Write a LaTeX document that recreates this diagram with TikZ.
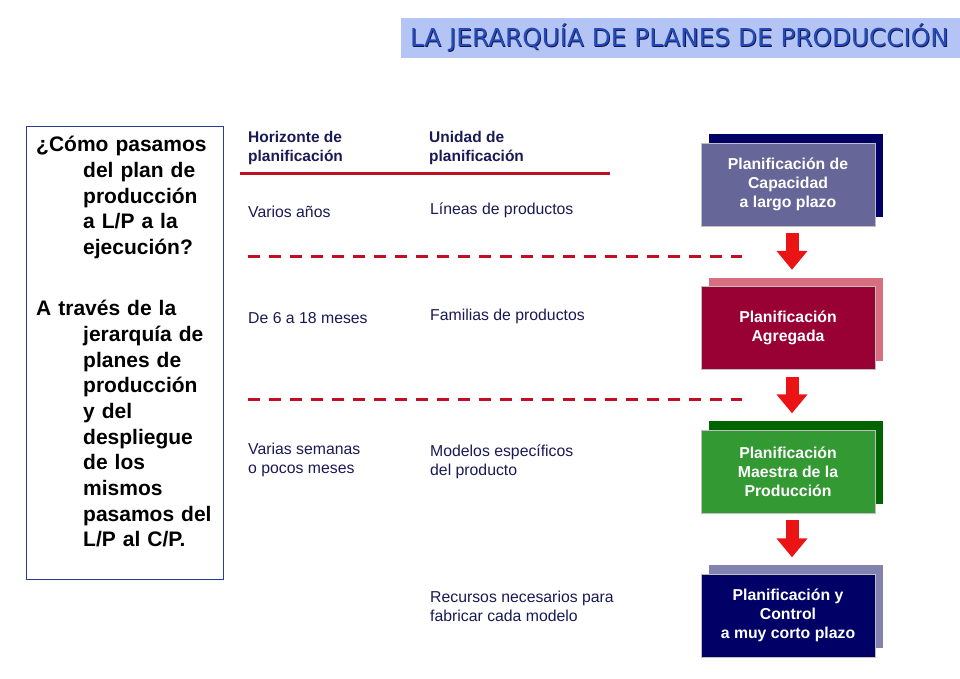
\documentclass[tikz,border=0pt]{standalone}
\usepackage{fontspec}
\setmainfont{Liberation Sans}
\newfontfamily\titlefont{DejaVu Sans}
\usetikzlibrary{arrows.meta}

\definecolor{navytext}{RGB}{25,25,85}
\definecolor{titleblue}{RGB}{35,75,185}
\definecolor{titleshade}{RGB}{20,20,70}
\definecolor{titlebg}{RGB}{180,197,245}
\definecolor{linered}{RGB}{190,15,35}
\definecolor{arrowred}{RGB}{235,20,20}
\definecolor{leftframe}{RGB}{40,60,150}
\definecolor{capfront}{RGB}{102,102,153}
\definecolor{capback}{RGB}{0,0,102}
\definecolor{agrfront}{RGB}{153,0,51}
\definecolor{agrback}{RGB}{214,112,128}
\definecolor{mpsfront}{RGB}{51,153,51}
\definecolor{mpsback}{RGB}{0,100,0}
\definecolor{ctlfront}{RGB}{0,0,102}
\definecolor{ctlback}{RGB}{130,130,175}

\begin{document}
\begin{tikzpicture}[x=1pt,y=-1pt,
    label/.style={anchor=west,inner sep=0pt,align=left,text=navytext,font=\fontsize{15.8}{19}\selectfont},
    head/.style={label,font=\fontsize{15.5}{19}\selectfont\bfseries},
    back/.style={minimum width=174pt,minimum height=83pt,inner sep=0pt},
    front/.style={back,draw=black!25,line width=0.8pt,text=white,align=center,font=\fontsize{15.8}{19}\selectfont\bfseries},
    bigtext/.style={anchor=north west,inner sep=0pt,text width=140pt,align=left,font=\fontsize{21}{25.7}\selectfont\bfseries},
    divider/.style={linered,line width=3pt,dash pattern=on 12pt off 9pt},
    downarrow/.style={arrowred,line width=13pt,-{Triangle[width=30pt,length=19pt]},shorten <=7pt,shorten >=7.5pt}]
    \useasboundingbox (0,0) rectangle (960,678);
    \node[fill=titlebg,minimum width=559pt,minimum height=40pt,inner sep=0pt] (titlebox) at (680.5,38) {};
    \node[text=titleshade,font=\titlefont\fontsize{24.7}{28}\selectfont] (titleshadow) at (680.3,38.8) {LA JERARQUÍA DE PLANES DE PRODUCCIÓN};
    \node[text=titleblue,font=\titlefont\fontsize{24.7}{28}\selectfont] (title) at (679.5,38) {LA JERARQUÍA DE PLANES DE PRODUCCIÓN};
    \draw[leftframe,line width=1pt] (26,126) rectangle (223,579);
    \node[bigtext] (question) at (83,136) {\hspace*{-47pt}¿Cómo pasamos\\del plan de\\producción\\a L/P a la\\ejecución?};
    \node[bigtext] (answer) at (83,300) {\hspace*{-47pt}A través de la\\jerarquía de\\planes de\\producción\\y del\\despliegue\\de los\\mismos\\pasamos del\\L/P al C/P.};
    \node[head] (horizon) at (248,147.5) {Horizonte de\\planificación};
    \node[head] (unit) at (429,147.5) {Unidad de\\planificación};
    \draw[linered,line width=3pt] (240,173) -- (610,173);
    \node[label] (years) at (248,212) {Varios años};
    \node[label] (lines) at (430,210) {Líneas de productos};
    \draw[divider] (248,256) -- (742,256);
    \node[label] (months) at (248,318) {De 6 a 18 meses};
    \node[label] (families) at (430,316) {Familias de productos};
    \draw[divider] (248,399) -- (742,399);
    \node[label] (weeks) at (248,459.5) {Varias semanas\\o pocos meses};
    \node[label] (models) at (430,461.5) {Modelos específicos\\del producto};
    \node[label] (resources) at (430,606.5) {Recursos necesarios para\\fabricar cada modelo};
    \node[back,fill=capback] (capS) at (796,175.5) {};
    \node[front,fill=capfront] (cap) at (788,184.5) {Planificación de\\Capacidad\\a largo plazo};
    \node[back,fill=agrback] (agrS) at (796,319) {};
    \node[front,fill=agrfront] (agr) at (788,328) {Planificación\\Agregada};
    \node[back,fill=mpsback] (mpsS) at (796,462.5) {};
    \node[front,fill=mpsfront] (mps) at (788,471.5) {Planificación\\Maestra de la\\Producción};
    \node[back,fill=ctlback] (ctlS) at (796,606.5) {};
    \node[front,fill=ctlfront] (ctl) at (788,615.5) {Planificación y\\Control\\a muy corto plazo};
    \draw[downarrow] ([xshift=4pt]cap.south) -- ([xshift=-4pt]agrS.north);
    \draw[downarrow] ([xshift=4pt]agr.south) -- ([xshift=-4pt]mpsS.north);
    \draw[downarrow] ([xshift=4pt]mps.south) -- ([xshift=-4pt]ctlS.north);
\end{tikzpicture}
\end{document}
